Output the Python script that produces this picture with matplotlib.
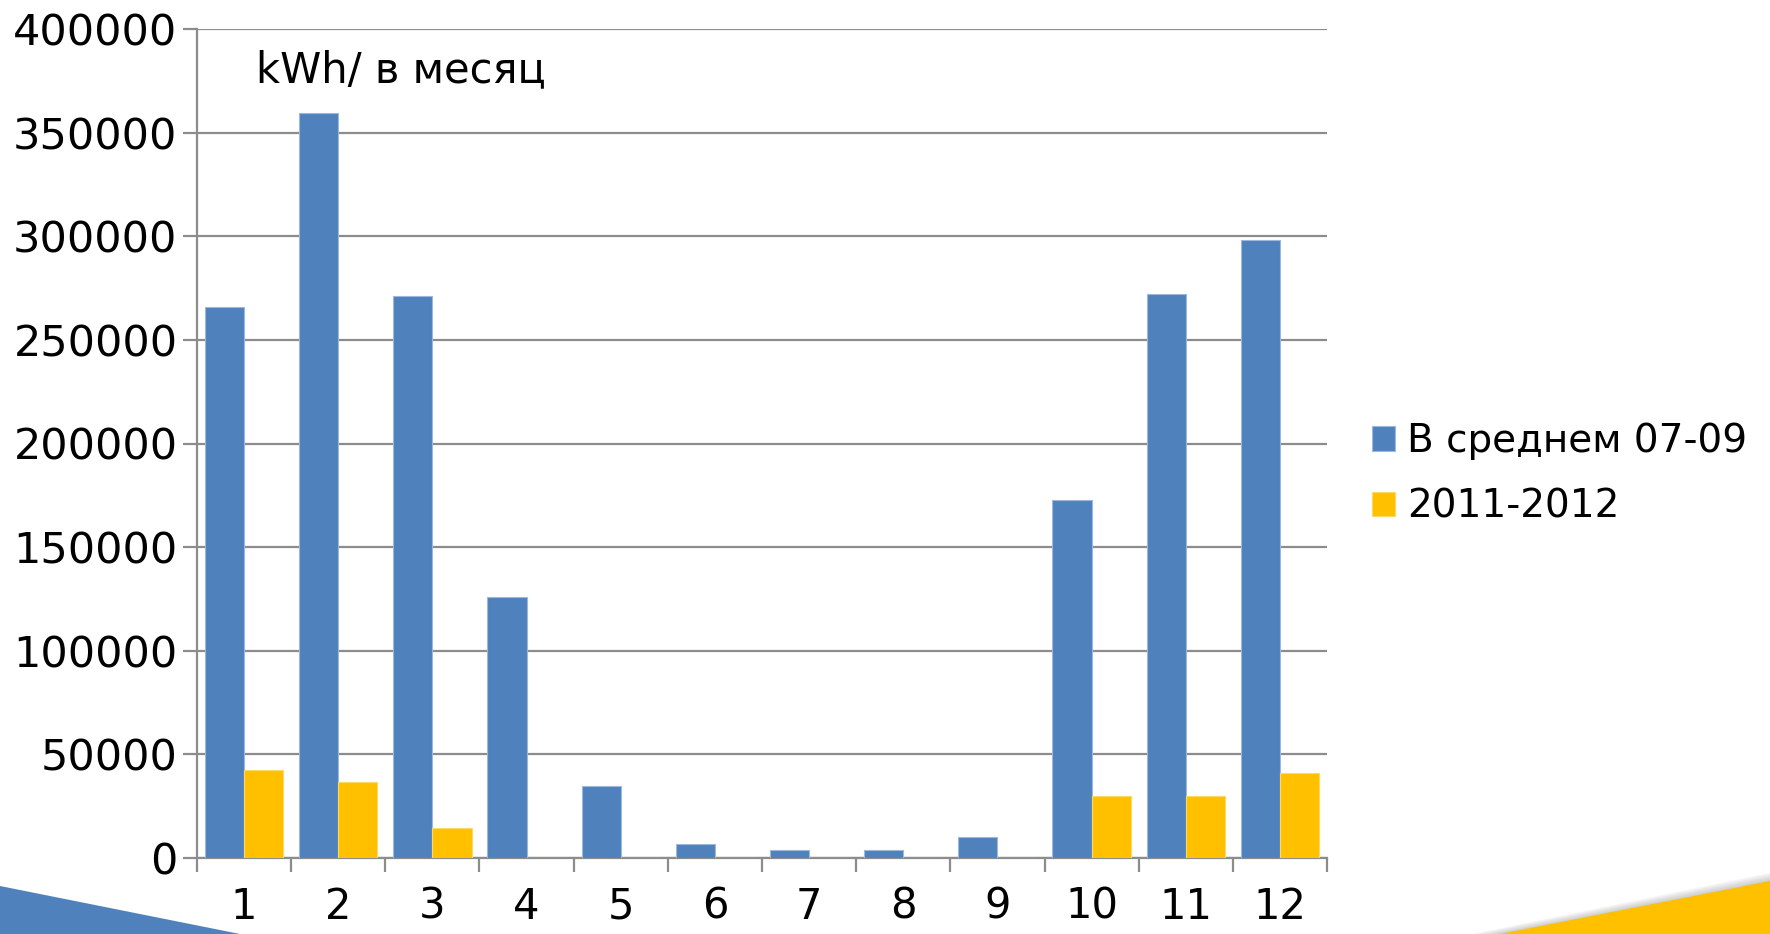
import numpy as np
import matplotlib.pyplot as plt
from matplotlib.patches import Polygon

# data
months = ["1", "2", "3", "4", "5", "6", "7", "8", "9", "10", "11", "12"]
avg_07_09 = [266000, 359600, 271400, 125800, 34700, 6600, 3900, 3800, 10000, 172900, 272000, 298100]
y_2011_12 = [42600, 36700, 14500, 0, 0, 0, 0, 0, 0, 29800, 29800, 41100]
series_names = ["В среднем 07-09", "2011-2012"]
unit_label = "kWh/ в месяц"

BLUE = "#4F81BD"
YELLOW = "#FFC000"
GRID = "#8C8C8C"

plt.rcParams['font.family'] = ['DejaVu Sans']

W, H = 1770, 934
fig = plt.figure(figsize=(W / 100, H / 100), dpi=100)
ax = fig.add_axes([197 / W, (H - 858) / H, (1327 - 197) / W, (858 - 29) / H])

x = np.arange(len(months))
bw = 1 / 2.4
ax.bar(x - bw / 2, avg_07_09, bw, color=BLUE, edgecolor="#9DB8DC", linewidth=0.8,
       label=series_names[0], zorder=3)
ax.bar(x + bw / 2, y_2011_12, bw, color=YELLOW, edgecolor="#FFD966", linewidth=0.8,
       label=series_names[1], zorder=3)

ax.set_xlim(-0.5, len(months) - 0.5)
ax.set_ylim(0, 400000)
ax.set_yticks(np.arange(0, 400001, 50000))
ax.set_yticklabels([str(v) for v in range(0, 400001, 50000)])
ax.yaxis.grid(True, color=GRID, linewidth=1.6, zorder=0)

ax.set_xticks(x)
ax.set_xticklabels(months)
ax.set_xticks(np.arange(-0.5, len(months)), minor=True)
ax.tick_params(axis="x", which="major", length=0, pad=20, labelsize=30)
ax.tick_params(axis="x", which="minor", length=10, width=1.6, color=GRID, direction="out")
ax.tick_params(axis="y", length=10, width=1.6, color=GRID, pad=4, labelsize=31)

for side in ["top", "right"]:
    ax.spines[side].set_visible(False)
for side in ["left", "bottom"]:
    ax.spines[side].set_color(GRID)
    ax.spines[side].set_linewidth(1.6)

ax.text(256 / W, (H - 70) / H, unit_label, transform=fig.transFigure,
        fontsize=30, va="center", ha="left")

leg = ax.legend(loc="center left", bbox_to_anchor=(1372 / W, (H - 474) / H),
                bbox_transform=fig.transFigure, frameon=False, fontsize=28,
                handlelength=0.6, handleheight=0.6, handletextpad=0.3,
                labelspacing=0.7, borderpad=0, borderaxespad=0)

# decorative slide shapes at the bottom corners
fig.patches.append(Polygon([[0, 0], [0, (H - 886) / H], [240 / W, 0]],
                           closed=True, transform=fig.transFigure,
                           facecolor=BLUE, edgecolor="none"))
for k in range(8):
    fig.patches.append(Polygon([[(1500 - 4 * k) / W, 0], [1, (H - 881 + 1.2 * k) / H], [1, 0]],
                               closed=True, transform=fig.transFigure,
                               facecolor="#808080", alpha=0.06, edgecolor="none"))
fig.patches.append(Polygon([[1500 / W, 0], [1, (H - 881) / H], [1, 0]],
                           closed=True, transform=fig.transFigure,
                           facecolor=YELLOW, edgecolor="none"))

fig.savefig("out.png", dpi=100)
